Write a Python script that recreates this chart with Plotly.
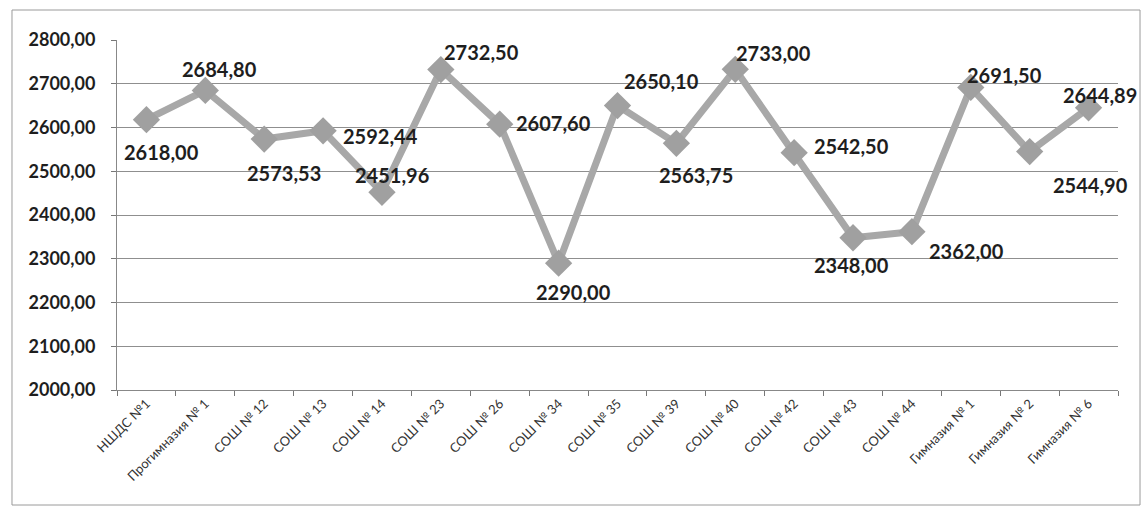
import plotly.graph_objects as go

categories = ["НШДС №1", "Прогимназия № 1", "СОШ № 12", "СОШ № 13", "СОШ № 14",
              "СОШ № 23", "СОШ № 26", "СОШ № 34", "СОШ № 35", "СОШ № 39",
              "СОШ № 40", "СОШ № 42", "СОШ № 43", "СОШ № 44", "Гимназия № 1",
              "Гимназия № 2", "Гимназия № 6"]
values = [2618.00, 2684.80, 2573.53, 2592.44, 2451.96, 2732.50, 2607.60, 2290.00,
          2650.10, 2563.75, 2733.00, 2542.50, 2348.00, 2362.00, 2691.50, 2544.90, 2644.89]

# label offsets in pixels (dx, dy) relative to each point
label_dx = [15, 14, 20, 57, 10, 41, 54, 15, 44, 20, 38, 57, -2, 55, 34, 61, 11]
label_dy = [-32, 21, -34, -5, 17, 18, 1, -29, 25, -32, 16, 7, -27, -19, 12, -33, 13]

fig = go.Figure()
fig.add_trace(go.Scatter(
    x=categories, y=values, mode="lines+markers",
    line=dict(color="#a8a8a8", width=7),
    marker=dict(symbol="diamond", size=21, color="#a0a0a0"),
    cliponaxis=False, hoverinfo="skip", showlegend=False,
))

for c, v, dx, dy in zip(categories, values, label_dx, label_dy):
    fig.add_annotation(
        x=c, y=v, text=f"{v:.2f}".replace(".", ","), showarrow=False,
        xshift=dx, yshift=dy, xanchor="center", yanchor="middle",
        font=dict(family="Lato", size=20, color="#1e1e1e", weight="bold"),
    )

fig.update_layout(
    width=1148, height=519,
    margin=dict(l=117, r=30, t=40, b=129),
    paper_bgcolor="white", plot_bgcolor="white",
    separators=", ",
    xaxis=dict(
        type="category", tickangle=-45, tickson="boundaries",
        range=[-0.5, len(categories) - 0.5],
        ticks="outside", ticklen=5, tickcolor="#777",
        showline=True, linecolor="#888", linewidth=1,
        showgrid=False, automargin=False,
        tickfont=dict(family="Lato", size=13, color="#333"),
    ),
    yaxis=dict(
        range=[2000, 2800], dtick=100, tickformat=".2f",
        ticks="outside", ticklen=5, tickcolor="#777",
        showline=True, linecolor="#888", linewidth=1,
        showgrid=True, gridcolor="#8f8f8f", gridwidth=1,
        zeroline=False, automargin=False, ticklabelstandoff=12,
        tickfont=dict(family="Lato", size=18, color="#1e1e1e", weight="bold"),
    ),
    shapes=[dict(type="rect", xref="paper", yref="paper",
                 x0=-0.1049, x1=1.022, y0=-0.3286, y1=1.0857,
                 line=dict(color="#9a9a9a", width=1), fillcolor="rgba(0,0,0,0)")],
)

fig.write_html("out.html", config={"displayModeBar": False},
               post_script="document.body.style.margin='0';document.body.style.overflow='hidden';")
